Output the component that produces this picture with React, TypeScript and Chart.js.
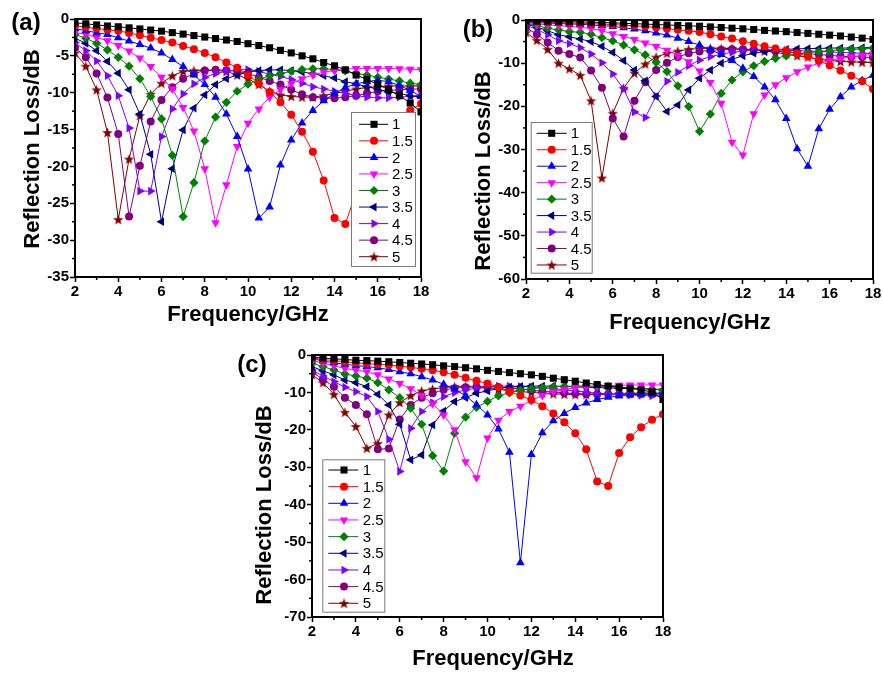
import React, { useEffect, useRef } from 'react';
import { Chart, registerables } from 'chart.js';
import { drawPoint } from 'chart.js/helpers';

Chart.register(...registerables);

const FONT = '"Liberation Sans", Arial, Helvetica, sans-serif';

// ---------- data ----------
const freq = [2, 2.5, 3, 3.5, 4, 4.5, 5, 5.5, 6, 6.5, 7, 7.5, 8, 8.5, 9, 9.5, 10, 10.5, 11, 11.5, 12, 12.5, 13, 13.5, 14, 14.5, 15, 15.5, 16, 16.5, 17, 17.5, 18];
const seriesLabels = ['1', '1.5', '2', '2.5', '3', '3.5', '4', '4.5', '5'];
const panelTags = ['(a)', '(b)', '(c)'];
const xTitle = 'Frequency/GHz';
const yTitle = 'Reflection Loss/dB';

// panel (a)
const a1 = [-0.5, -0.65, -0.8, -0.95, -1.05, -1.2, -1.35, -1.5, -1.65, -1.85, -2.05, -2.25, -2.45, -2.65, -2.85, -3.05, -3.35, -3.6, -3.9, -4.25, -4.6, -5.0, -5.4, -5.9, -6.35, -6.9, -7.6, -8.2, -8.85, -9.6, -10.4, -11.4, -12.6];
const a15 = [-0.9, -1.1, -1.3, -1.45, -1.6, -1.9, -2.2, -2.55, -2.85, -3.2, -3.65, -4.1, -4.6, -5.2, -5.9, -6.6, -7.6, -8.7, -9.9, -11.3, -13.0, -15.3, -18.0, -21.9, -27.0, -27.8, -23.5, -19.5, -16.8, -15.0, -13.6, -12.4, -11.5];
const a2 = [-1.3, -1.6, -1.85, -2.1, -2.55, -3.0, -3.45, -3.95, -4.6, -5.5, -6.45, -7.6, -8.9, -10.6, -12.9, -15.95, -20.35, -27.0, -25.5, -19.8, -16.4, -14.1, -12.4, -11.1, -10.1, -9.3, -8.8, -8.5, -8.3, -8.5, -9.0, -9.7, -10.5];
const a25 = [-1.8, -2.1, -2.5, -2.95, -3.6, -4.35, -5.3, -6.45, -7.9, -9.5, -12.0, -15.2, -20.3, -27.65, -22.5, -17.3, -14.15, -12.2, -10.6, -9.6, -8.8, -8.1, -7.6, -7.2, -7.0, -6.8, -6.7, -6.7, -6.7, -6.7, -6.75, -6.8, -6.9];
const a3 = [-2.1, -2.6, -3.3, -4.2, -5.2, -6.4, -8.1, -10.5, -13.55, -18.5, -26.8, -22.2, -16.55, -13.3, -11.3, -9.8, -8.85, -8.2, -7.7, -7.4, -7.1, -6.85, -6.75, -6.75, -6.9, -7.05, -7.4, -7.6, -7.9, -8.15, -8.4, -8.7, -8.9];
const a35 = [-2.6, -3.3, -4.3, -5.75, -7.35, -9.6, -12.9, -18.35, -27.5, -20.3, -15.05, -12.1, -10.3, -8.9, -8.1, -7.6, -7.2, -7.0, -6.9, -6.9, -7.0, -7.2, -7.4, -7.7, -8.0, -8.5, -8.8, -9.2, -9.5, -9.9, -10.1, -10.4, -10.6];
const a4 = [-3.2, -4.3, -5.7, -7.7, -10.4, -14.8, -23.35, -23.35, -15.95, -12.2, -10.15, -8.8, -7.9, -7.4, -7.1, -6.9, -6.85, -7.1, -7.5, -7.8, -8.2, -8.7, -9.2, -9.5, -9.8, -10.1, -10.4, -10.6, -10.7, -10.7, -10.6, -10.5, -10.3];
const a45 = [-3.9, -5.2, -7.4, -10.65, -15.6, -26.8, -19.9, -13.9, -11.0, -9.25, -8.1, -7.4, -7.0, -6.9, -6.95, -7.1, -7.4, -7.9, -8.4, -8.9, -9.6, -10.2, -10.6, -10.75, -10.75, -10.6, -10.4, -10.1, -9.8, -9.7, -9.6, -9.5, -9.5];
const a5 = [-4.6, -6.4, -9.6, -15.4, -27.2, -19.0, -13.1, -10.2, -8.7, -7.7, -7.1, -7.0, -7.0, -7.0, -7.1, -7.6, -8.1, -8.9, -9.8, -10.3, -10.5, -10.6, -10.6, -10.4, -10.1, -9.8, -9.5, -9.3, -9.2, -9.1, -9.1, -9.1, -9.1];

// panel (b)
const b1 = [-0.2, -0.25, -0.3, -0.35, -0.4, -0.45, -0.5, -0.6, -0.65, -0.75, -0.85, -0.95, -1.05, -1.15, -1.25, -1.35, -1.45, -1.6, -1.75, -1.9, -2.05, -2.2, -2.4, -2.55, -2.7, -2.9, -3.1, -3.3, -3.5, -3.7, -3.95, -4.2, -4.5];
const b15 = [-0.3, -0.4, -0.5, -0.6, -0.7, -0.75, -0.85, -0.95, -1.05, -1.2, -1.35, -1.5, -1.75, -2.0, -2.25, -2.5, -2.8, -3.3, -3.8, -4.3, -4.9, -5.5, -6.1, -6.6, -7.1, -7.7, -8.4, -9.4, -10.5, -11.7, -12.9, -14.2, -16.0];
const b2 = [-0.5, -0.6, -0.7, -0.8, -0.9, -1.0, -1.15, -1.3, -1.5, -1.8, -2.1, -2.5, -3.0, -3.5, -4.2, -5.0, -5.8, -6.9, -8.0, -9.4, -11.2, -13.1, -15.5, -18.5, -22.8, -29.8, -33.9, -25.2, -20.7, -17.8, -15.5, -14.0, -12.8];
const b25 = [-0.6, -0.9, -1.1, -1.3, -1.5, -1.7, -2.0, -2.5, -3.2, -3.8, -4.5, -5.3, -6.1, -7.0, -8.2, -9.7, -11.8, -14.5, -19.3, -28.3, -31.3, -21.7, -17.4, -15.0, -13.4, -12.0, -10.9, -10.0, -9.4, -8.9, -8.5, -8.2, -8.0];
const b3 = [-0.8, -1.3, -1.9, -2.3, -2.7, -2.85, -3.3, -4.1, -4.85, -5.8, -6.9, -8.1, -9.8, -11.95, -15.25, -20.05, -25.8, -21.8, -17.0, -13.9, -12.0, -10.6, -9.6, -8.9, -8.3, -7.9, -7.6, -7.3, -7.1, -6.9, -6.8, -6.7, -6.5];
const b35 = [-0.9, -1.6, -2.5, -3.4, -3.9, -4.4, -5.0, -6.1, -7.5, -9.4, -11.6, -14.1, -17.7, -21.2, -19.7, -16.2, -13.5, -11.6, -10.0, -9.1, -8.3, -7.7, -7.3, -7.0, -6.8, -6.7, -6.6, -6.6, -6.5, -6.5, -6.5, -6.4, -6.4];
const b4 = [-1.2, -2.2, -3.4, -4.8, -5.5, -6.4, -7.9, -9.9, -12.5, -16.0, -21.3, -22.6, -17.6, -14.2, -12.1, -10.6, -9.3, -8.5, -7.9, -7.5, -7.2, -7.0, -6.9, -6.9, -7.0, -7.1, -7.2, -7.3, -7.4, -7.5, -7.6, -7.7, -7.8];
const b45 = [-1.8, -3.3, -5.2, -7.1, -7.9, -8.7, -11.7, -15.7, -22.8, -27.0, -18.7, -14.4, -11.6, -9.9, -8.6, -7.7, -7.3, -7.0, -6.9, -6.8, -6.8, -6.9, -7.0, -7.2, -7.4, -7.6, -7.8, -8.0, -8.2, -8.4, -8.5, -8.6, -8.7];
const b5 = [-2.9, -4.7, -6.8, -10.0, -11.3, -12.8, -18.7, -36.6, -21.6, -15.8, -12.3, -10.2, -8.6, -7.7, -7.2, -6.8, -6.6, -6.55, -6.6, -6.6, -6.8, -6.9, -7.2, -7.5, -7.9, -8.3, -8.6, -9.1, -9.4, -9.6, -9.7, -9.8, -9.9];

// panel (c)
const c1 = [-0.5, -0.8, -1.0, -1.2, -1.4, -1.5, -1.65, -1.8, -2.0, -2.2, -2.4, -2.6, -2.9, -3.1, -3.4, -3.7, -4.1, -4.4, -4.7, -5.0, -5.3, -5.7, -6.2, -6.6, -7.0, -7.5, -7.9, -8.3, -8.6, -8.9, -9.3, -9.9, -11.9];
const c15 = [-0.8, -1.2, -1.5, -1.8, -2.1, -2.3, -2.5, -2.7, -3.0, -3.3, -3.7, -4.1, -4.6, -5.3, -6.1, -6.9, -7.6, -8.6, -9.8, -10.8, -12.0, -13.7, -15.6, -18.0, -20.9, -25.2, -33.8, -35.0, -26.2, -22.0, -19.3, -17.3, -15.8];
const c2 = [-1.0, -1.6, -2.1, -2.5, -2.8, -3.1, -3.4, -3.9, -4.5, -5.0, -5.8, -6.7, -7.8, -9.1, -10.9, -13.3, -16.0, -19.8, -26.0, -55.5, -26.6, -20.8, -17.6, -15.6, -14.0, -12.8, -11.9, -11.3, -10.9, -10.6, -10.5, -10.4, -10.4];
const c25 = [-1.5, -2.2, -2.9, -3.6, -4.0, -4.5, -5.3, -6.4, -7.6, -9.0, -10.8, -13.0, -16.0, -20.0, -28.5, -32.8, -22.2, -17.4, -15.1, -13.7, -12.2, -10.8, -9.8, -9.2, -8.8, -8.5, -8.3, -8.2, -8.1, -8.0, -8.0, -8.0, -8.0];
const c3 = [-2.2, -3.1, -4.0, -5.1, -5.6, -6.2, -7.4, -9.3, -11.4, -14.2, -18.5, -26.9, -31.0, -20.9, -16.6, -14.0, -12.4, -10.9, -10.1, -9.4, -9.0, -8.7, -8.5, -8.4, -8.3, -8.3, -8.4, -8.5, -8.6, -8.8, -9.0, -9.2, -9.4];
const c35 = [-3.1, -4.2, -5.3, -6.7, -7.4, -8.45, -10.5, -13.35, -18.5, -28.0, -26.7, -18.7, -14.95, -12.45, -11.4, -10.2, -9.6, -8.9, -8.6, -8.4, -8.3, -8.3, -8.3, -8.4, -8.5, -8.6, -8.7, -8.8, -8.9, -9.0, -9.0, -9.1, -9.2];
const c4 = [-4.0, -5.6, -7.1, -8.6, -9.8, -11.1, -15.1, -22.5, -31.1, -19.6, -15.1, -12.7, -11.1, -10.05, -9.3, -8.9, -8.5, -8.3, -8.3, -8.4, -8.6, -8.8, -9.0, -9.3, -9.6, -9.9, -10.2, -10.4, -10.6, -10.7, -10.8, -10.9, -10.9];
const c45 = [-4.5, -6.5, -8.45, -11.4, -13.35, -15.8, -25.2, -25.0, -17.2, -13.35, -11.4, -10.2, -9.3, -8.9, -8.6, -8.45, -8.45, -8.6, -8.8, -9.1, -9.4, -9.7, -9.9, -10.1, -10.3, -10.4, -10.5, -10.5, -10.5, -10.5, -10.4, -10.4, -10.3];
const c5 = [-5.3, -7.4, -10.5, -15.3, -19.1, -24.9, -23.6, -16.0, -12.7, -10.85, -9.6, -9.1, -8.7, -8.45, -8.45, -8.6, -8.9, -9.2, -9.5, -9.8, -10.0, -10.2, -10.4, -10.5, -10.6, -10.6, -10.6, -10.5, -10.4, -10.3, -10.2, -10.2, -10.2];

// axis ranges
const xRange = { min: 2, max: 18, step: 2, minor: 1 };
const yRanges = [
  { min: -35, max: 0, step: 5, minor: 2.5 },
  { min: -60, max: 0, step: 10, minor: 5 },
  { min: -70, max: 0, step: 10, minor: 5 },
];

// ---------- styles ----------
const seriesColors = ['#000000', '#ff0000', '#0000ff', '#ff00ff', '#008000', '#000080', '#8000ff', '#800080', '#800000'];
const markers = [
  { style: 'rect', radius: 5, rotation: 0 },
  { style: 'circle', radius: 4, rotation: 0 },
  { style: 'triangle', radius: 5, rotation: 0 },
  { style: 'triangle', radius: 5, rotation: 180 },
  { style: 'rectRot', radius: 4.6, rotation: 0 },
  { style: 'triangle', radius: 5, rotation: 270 },
  { style: 'triangle', radius: 5, rotation: 90 },
  { style: 'circle', radius: 4, rotation: 0 },
  { style: 'star', radius: 5, rotation: 0 },
];

type Legend = { x: number; y: number; w: number; h: number; row0: number; rowStep: number; lineX0: number; lineX1: number; markX: number; textX: number };
type PanelCfg = {
  idx: number;
  left: number; top: number; width: number; height: number;
  plot: { l: number; t: number; r: number; b: number };
  series: number[][];
  legend: Legend;
  tagPos: { x: number; y: number };
  yTitlePos: { x: number; y: number };
  xTitlePos: { x: number; y: number };
};

const panels: PanelCfg[] = [
  {
    idx: 0, left: 0, top: 0, width: 440, height: 330,
    plot: { l: 75, t: 19, r: 421, b: 277 },
    series: [a1, a15, a2, a25, a3, a35, a4, a45, a5],
    legend: { x: 351, y: 112, w: 64, h: 154, row0: 124.3, rowStep: 16.55, lineX0: 359, lineX1: 388, markX: 374, textX: 392 },
    tagPos: { x: 26, y: 22 }, yTitlePos: { x: 32, y: 149 }, xTitlePos: { x: 248, y: 314 },
  },
  {
    idx: 1, left: 440, top: 0, width: 443, height: 330,
    plot: { l: 86, t: 20, r: 433, b: 279 },
    series: [b1, b15, b2, b25, b3, b35, b4, b45, b5],
    legend: { x: 90.7, y: 122, w: 61, h: 150.7, row0: 133.3, rowStep: 16.46, lineX0: 96.7, lineX1: 126.7, markX: 111.7, textX: 130.7 },
    tagPos: { x: 478, y: 29 }, yTitlePos: { x: 483, y: 171 }, xTitlePos: { x: 690, y: 322 },
  },
  {
    idx: 2, left: 240, top: 330, width: 440, height: 343,
    plot: { l: 72, t: 25, r: 423, b: 287 },
    series: [c1, c15, c2, c25, c3, c35, c4, c45, c5],
    legend: { x: 82.3, y: 129.3, w: 62, h: 152.4, row0: 140, rowStep: 16.66, lineX0: 88.3, lineX1: 118.3, markX: 104, textX: 122.7 },
    tagPos: { x: 252, y: 364 }, yTitlePos: { x: 264, y: 505 }, xTitlePos: { x: 493, y: 658 },
  },
];

function makeStar(color: string, size: number): HTMLCanvasElement {
  const c = document.createElement('canvas');
  c.width = size;
  c.height = size;
  const ctx = c.getContext('2d')!;
  const cx = size / 2, cy = size / 2 + 0.5, R = size / 2, r = R * 0.42;
  ctx.beginPath();
  for (let i = 0; i < 10; i++) {
    const a = -Math.PI / 2 + (i * Math.PI) / 5;
    const rr = i % 2 === 0 ? R : r;
    ctx.lineTo(cx + rr * Math.cos(a), cy + rr * Math.sin(a));
  }
  ctx.closePath();
  ctx.fillStyle = color;
  ctx.fill();
  return c;
}

function PanelChart({ cfg }: { cfg: PanelCfg }) {
  const ref = useRef<HTMLCanvasElement | null>(null);

  useEffect(() => {
    const canvas = ref.current;
    if (!canvas) return;
    const star = makeStar(seriesColors[8], 11);
    const styleOf = (i: number): any => (markers[i].style === 'star' ? star : markers[i].style);
    const yr = yRanges[cfg.idx];
    const yW = 45;
    const xH = 25;

    const datasets = seriesLabels.map((lab, i) => ({
      label: lab,
      data: freq.map((f, k) => ({ x: f, y: cfg.series[i][k] })),
      borderColor: seriesColors[i],
      backgroundColor: seriesColors[i],
      pointBackgroundColor: seriesColors[i],
      pointBorderColor: seriesColors[i],
      borderWidth: 1,
      pointStyle: styleOf(i),
      pointRadius: markers[i].radius,
      pointRotation: markers[i].rotation,
      pointBorderWidth: 0,
      tension: 0,
    }));

    const deco = {
      id: 'deco' + cfg.idx,
      afterDraw(chart: any) {
        const { ctx, chartArea: ca, scales } = chart;
        const xs = scales.x, ys = scales.y;
        ctx.save();
        // minor ticks
        ctx.strokeStyle = '#000';
        ctx.lineWidth = 1.5;
        const nx = Math.round((xRange.max - xRange.min) / xRange.minor);
        const rx = Math.round(xRange.step / xRange.minor);
        for (let i = 0; i <= nx; i++) {
          if (i % rx === 0) continue;
          const px = xs.getPixelForValue(xRange.min + i * xRange.minor);
          ctx.beginPath();
          ctx.moveTo(px, ca.bottom);
          ctx.lineTo(px, ca.bottom + 3);
          ctx.stroke();
        }
        const ny = Math.round((yr.max - yr.min) / yr.minor);
        const ry = Math.round(yr.step / yr.minor);
        for (let i = 0; i <= ny; i++) {
          if (i % ry === 0) continue;
          const py = ys.getPixelForValue(yr.min + i * yr.minor);
          ctx.beginPath();
          ctx.moveTo(ca.left, py);
          ctx.lineTo(ca.left - 3, py);
          ctx.stroke();
        }
        // frame
        ctx.lineWidth = 2;
        ctx.strokeRect(ca.left, ca.top, ca.right - ca.left, ca.bottom - ca.top);
        // legend
        const L = cfg.legend;
        ctx.fillStyle = '#ffffff';
        ctx.fillRect(L.x, L.y, L.w, L.h);
        ctx.strokeStyle = '#7a7a7a';
        ctx.lineWidth = 1;
        ctx.strokeRect(L.x + 0.5, L.y + 0.5, L.w, L.h);
        seriesLabels.forEach((lab, i) => {
          const y = L.row0 + i * L.rowStep;
          ctx.strokeStyle = seriesColors[i];
          ctx.lineWidth = 1;
          ctx.beginPath();
          ctx.moveTo(L.lineX0, y);
          ctx.lineTo(L.lineX1, y);
          ctx.stroke();
          ctx.fillStyle = seriesColors[i];
          drawPoint(ctx, { pointStyle: styleOf(i), rotation: markers[i].rotation, radius: markers[i].radius, borderWidth: 0 } as any, L.markX, y);
          ctx.fillStyle = '#000';
          ctx.font = `15px ${FONT}`;
          ctx.textAlign = 'left';
          ctx.textBaseline = 'middle';
          ctx.fillText(lab, L.textX, y + 1);
        });
        ctx.restore();
      },
    };

    const tickFont = { family: FONT, size: 15, weight: 'bold' as const };
    const chart = new Chart(canvas, {
      type: 'line',
      data: { datasets: datasets as any },
      options: {
        animation: false,
        responsive: false,
        maintainAspectRatio: false,
        events: [],
        layout: {
          padding: {
            left: cfg.plot.l - yW,
            top: cfg.plot.t,
            right: cfg.width - cfg.plot.r,
            bottom: cfg.height - cfg.plot.b - xH,
          },
        },
        plugins: { legend: { display: false }, tooltip: { enabled: false }, title: { display: false } },
        scales: {
          x: {
            type: 'linear',
            min: xRange.min,
            max: xRange.max,
            ticks: { stepSize: xRange.step, font: tickFont, color: '#000', padding: 1, maxRotation: 0, autoSkip: false },
            grid: { drawOnChartArea: false, drawTicks: true, tickLength: 5, tickColor: '#000', tickWidth: 1.5 },
            border: { display: true, color: '#000', width: 2 },
            afterFit: (s: any) => { s.height = xH; },
          },
          y: {
            type: 'linear',
            min: yr.min,
            max: yr.max,
            ticks: { stepSize: yr.step, font: tickFont, color: '#000', padding: 1, autoSkip: false },
            grid: { drawOnChartArea: false, drawTicks: true, tickLength: 5, tickColor: '#000', tickWidth: 1.5 },
            border: { display: true, color: '#000', width: 2 },
            afterFit: (s: any) => { s.width = yW; },
          },
        },
      },
      plugins: [deco as any],
    });
    return () => chart.destroy();
  }, [cfg]);

  const txt: React.CSSProperties = { position: 'absolute', whiteSpace: 'nowrap', lineHeight: 1, color: '#000', fontFamily: FONT, fontWeight: 'bold' };
  return (
    <>
      <canvas
        ref={ref}
        width={cfg.width}
        height={cfg.height}
        style={{ position: 'absolute', left: cfg.left, top: cfg.top, width: cfg.width, height: cfg.height }}
      />
      <div style={{ ...txt, left: cfg.tagPos.x, top: cfg.tagPos.y, fontSize: 24, transform: 'translate(-50%,-50%)' }}>{panelTags[cfg.idx]}</div>
      <div style={{ ...txt, left: cfg.yTitlePos.x, top: cfg.yTitlePos.y, fontSize: 22, transform: 'translate(-50%,-50%) rotate(-90deg)' }}>{yTitle}</div>
      <div style={{ ...txt, left: cfg.xTitlePos.x, top: cfg.xTitlePos.y, fontSize: 22, transform: 'translate(-50%,-50%)' }}>{xTitle}</div>
    </>
  );
}

export default function App() {
  return (
    <div style={{ position: 'absolute', left: 0, top: 0, width: 883, height: 673, background: '#fff', overflow: 'hidden' }}>
      {panels.map((p) => (
        <PanelChart key={p.idx} cfg={p} />
      ))}
    </div>
  );
}
